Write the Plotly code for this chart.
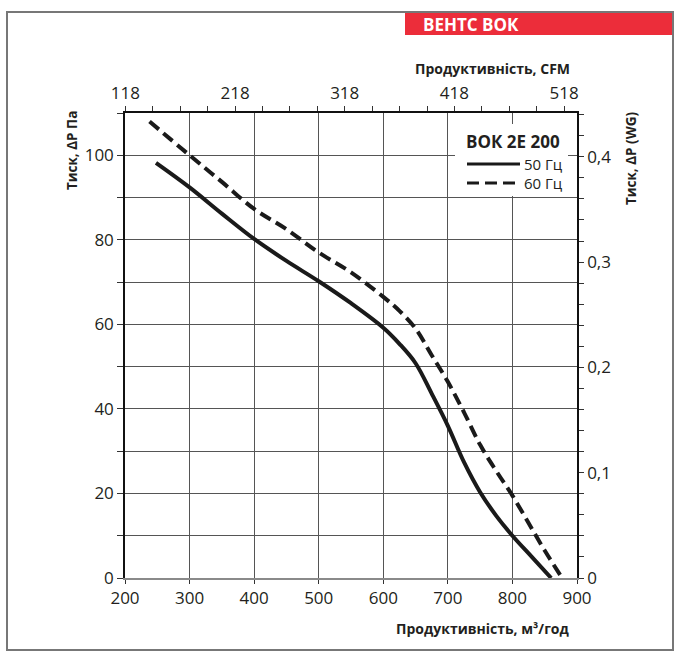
import plotly.graph_objects as go

# ---- data ----
q50 = [248, 300, 350, 400, 450, 500, 550, 600, 625, 650, 675, 700, 725, 750, 775, 800, 830, 860]
p50 = [98.2, 92.4, 86.2, 80.2, 75.0, 70.2, 65.0, 59.2, 55.4, 50.8, 43.6, 36.0, 27.4, 20.3, 14.7, 10.0, 5.0, 0.0]

q60 = [238, 300, 350, 400, 450, 500, 550, 600, 625, 650, 675, 700, 725, 750, 775, 800, 825, 850, 877]
p60 = [108.0, 100.0, 93.7, 87.3, 82.5, 77.0, 72.3, 66.5, 63.2, 59.0, 52.7, 46.4, 39.2, 31.5, 25.3, 19.5, 13.0, 6.5, 0.0]

x_ticks = [200, 300, 400, 500, 600, 700, 800, 900]
y_ticks = [0, 20, 40, 60, 80, 100]
cfm_ticks = [118, 218, 318, 418, 518]
wg_ticks = [0, 0.1, 0.2, 0.3, 0.4]
wg_labels = ["0", "0,1", "0,2", "0,3", "0,4"]

M3H_TO_CFM = 0.588578
PA_TO_WG = 0.00401463
X_RANGE = [200, 900]
Y_RANGE = [0, 110]

# ---- layout geometry (pixels) ----
W, H = 680, 660
L, R, T, B = 125, 103, 113, 82
PW, PH = W - L - R, H - T - B


def px(x):
    return (x - L) / PW


def py(y):
    return (H - B - y) / PH


FONT = "Open Sans"
TXT = "#231f20"
GRID = "#555555"

fig = go.Figure()
fig.add_trace(go.Scatter(x=q50, y=p50, mode="lines", name="50 Гц",
                         line=dict(color="#1a1a1a", width=4, shape="spline", smoothing=1.0),
                         showlegend=False))
fig.add_trace(go.Scatter(x=q60, y=p60, mode="lines", name="60 Гц",
                         line=dict(color="#1a1a1a", width=4, dash="12px,6px", shape="spline", smoothing=1.0),
                         showlegend=False))
# invisible companion trace on the secondary (CFM / WG) axes
fig.add_trace(go.Scatter(x=[q * M3H_TO_CFM for q in q50], y=[p * PA_TO_WG for p in p50],
                         xaxis="x2", yaxis="y2", mode="lines", line=dict(width=0),
                         showlegend=False, hoverinfo="skip"))

fig.update_layout(
    width=W, height=H,
    margin=dict(l=L, r=R, t=T, b=B),
    paper_bgcolor="white", plot_bgcolor="white",
    font=dict(family=FONT, color=TXT),
    showlegend=False,
    xaxis=dict(range=X_RANGE, tickvals=x_ticks, showgrid=True, gridcolor=GRID, gridwidth=1.3,
               zeroline=False, showline=True, linecolor="#8a8a8a", linewidth=2,
               ticks="outside", ticklen=4, tickcolor="#333", tickfont=dict(size=17, color=TXT)),
    yaxis=dict(range=Y_RANGE, tickvals=y_ticks, showgrid=True, gridcolor=GRID, gridwidth=1.3,
               zeroline=False, showline=True, linecolor="#111", linewidth=1.5,
               ticks="outside", ticklen=6, tickcolor="#333", tickfont=dict(size=17, color=TXT),
               minor=dict(tick0=0, dtick=10, showgrid=True, gridcolor=GRID, gridwidth=1.3,
                          ticks="outside", ticklen=6, tickcolor="#333")),
    xaxis2=dict(overlaying="x", anchor="y", side="top",
                range=[X_RANGE[0] * M3H_TO_CFM, X_RANGE[1] * M3H_TO_CFM],
                tickvals=cfm_ticks, showgrid=False, zeroline=False,
                showline=True, linecolor="#111", linewidth=1.5,
                ticks="outside", ticklen=5, tickcolor="#333", tickfont=dict(size=17, color=TXT),
                minor=dict(tick0=118, dtick=25, ticks="outside", ticklen=5, tickcolor="#333")),
    yaxis2=dict(overlaying="y", anchor="x", side="right",
                range=[Y_RANGE[0] * PA_TO_WG, Y_RANGE[1] * PA_TO_WG],
                tickvals=wg_ticks, ticktext=wg_labels, showgrid=False, zeroline=False,
                showline=True, linecolor="#111", linewidth=1.5,
                ticks="outside", ticklen=5, tickcolor="#333", tickfont=dict(size=17, color=TXT),
                minor=dict(tick0=0, dtick=0.02, ticks="outside", ticklen=5, tickcolor="#333")),
)

shapes = [
    # outer frame
    dict(type="rect", xref="paper", yref="paper", x0=px(7), x1=px(673), y0=py(650), y1=py(12),
         line=dict(color="#777", width=2), fillcolor="rgba(0,0,0,0)", layer="above"),
    # red banner
    dict(type="rect", xref="paper", yref="paper", x0=px(405), x1=px(672), y0=py(35), y1=py(13),
         line=dict(width=0), fillcolor="#ec2d3a", layer="above"),
    # legend white box
    dict(type="rect", xref="paper", yref="paper", x0=px(455), x1=px(568), y0=py(196), y1=py(124),
         line=dict(width=0), fillcolor="white", layer="above"),
    # legend samples
    dict(type="line", xref="paper", yref="paper", x0=px(467), x1=px(520), y0=py(164), y1=py(164),
         line=dict(color="#1a1a1a", width=3), layer="above"),
    dict(type="line", xref="paper", yref="paper", x0=px(467), x1=px(520), y0=py(183), y1=py(183),
         line=dict(color="#1a1a1a", width=3, dash="12px,6px"), layer="above"),
]
fig.update_layout(shapes=shapes)

ann = [
    dict(text="<b>ВЕНТС ВОК</b>", x=px(421), y=py(24), xanchor="left", yanchor="middle",
         font=dict(size=17, color="white")),
    dict(text="<b>Продуктивність, м³/год</b>", x=px(571), y=py(628), xanchor="right", yanchor="middle",
         font=dict(size=14, color=TXT)),
    dict(text="<b>Продуктивність, CFM</b>", x=px(572), y=py(68), xanchor="right", yanchor="middle",
         font=dict(size=14, color=TXT)),
    dict(text="<b>Тиск, ΔР Па</b>", x=px(72), y=py(151), xanchor="center", yanchor="middle",
         textangle=-90, font=dict(size=13.5, color=TXT)),
    dict(text="<b>Тиск, ΔР (WG)</b>", x=px(631), y=py(159), xanchor="center", yanchor="middle",
         textangle=-90, font=dict(size=13.5, color=TXT)),
    dict(text="<b>ВОК 2Е 200</b>", x=px(464), y=py(141), xanchor="left", yanchor="middle",
         font=dict(size=17, color=TXT)),
    dict(text="50 Гц", x=px(522), y=py(164), xanchor="left", yanchor="middle",
         font=dict(size=15, color=TXT)),
    dict(text="60 Гц", x=px(522), y=py(183), xanchor="left", yanchor="middle",
         font=dict(size=15, color=TXT)),
]
for a in ann:
    a.update(xref="paper", yref="paper", showarrow=False)
fig.update_layout(annotations=ann)

fig.write_html("out.html")
